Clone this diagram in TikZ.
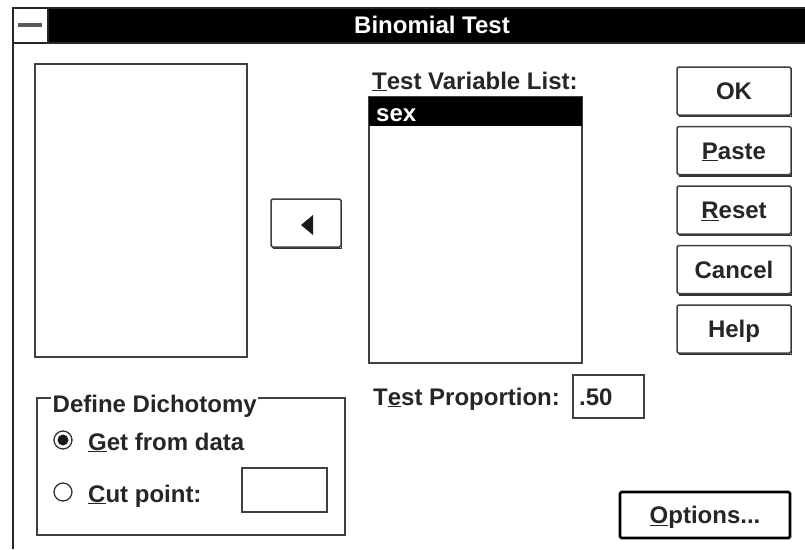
\documentclass[tikz,border=0pt]{standalone}
\usepackage{fontspec}
\setmainfont{Liberation Sans}
\usetikzlibrary{positioning}

\newcommand\dlgfont{\bfseries\fontsize{24}{28}\selectfont}

\def\dlgWidth{805}
\def\dlgHeight{549}
\def\dlgLeft{13}
\def\dlgTop{8}
\def\titleBottom{43}
\def\buttonWidth{114}
\def\buttonHeight{48}
\def\buttonGap{10}
\def\radioRadius{9}

\tikzset{
    dlgline/.style = {draw = black!75, line width = 1.6pt},
    pushbutton/.style = {draw = black!75, line width = 1.5pt, rounded corners = 1.5pt,
        minimum width = \buttonWidth pt, minimum height = \buttonHeight pt,
        inner sep = 0pt, text height = 18pt, text depth = 1pt,
        font = \dlgfont, text = black!85},
    dlglabel/.style = {anchor = base west, inner sep = 0pt, font = \dlgfont, text = black!85},
}

\begin{document}
\begin{tikzpicture}[x = 1pt, y = -1pt]
            \useasboundingbox (0,0) rectangle (\dlgWidth,\dlgHeight);
            %% window frame and title bar
            \fill (48,\dlgTop) rectangle (\dlgWidth,\titleBottom);
            \draw [dlgline, draw = black!85]
            (\dlgLeft,\dlgHeight) -- (\dlgLeft,\dlgTop) -- (\dlgWidth,\dlgTop)
            (\dlgLeft,\titleBottom) -- (\dlgWidth,\titleBottom)
            (48,\dlgTop) -- (48,\titleBottom)
            ;
            \draw [line width = 4pt, black!65] (18,25) -- (42,25);
            \node [font = \dlgfont, text = white, inner sep = 0pt,
                text height = 18pt, text depth = 1pt] (title) at (432,25) {Binomial Test};
            %% source list
            \draw [dlgline] (35,64) rectangle (247,357);
            %% move button
            \node [pushbutton, minimum width = 70pt] (move) at (306,223) {};
            \fill [black!90] (301,225) -- (313,215) -- (313,235) -- cycle;
            %% test variable list
            \node [dlglabel] (varlabel) at (372,89) {\underline{T}est Variable List:};
            \draw [dlgline] (369,97) rectangle (582,363);
            \fill (369,97) rectangle (582,126);
            \node [dlglabel, text = white] (sex) at (376,121) {sex};
            %% buttons
            \node [pushbutton] (ok) at (734,91) {OK};
            \node [pushbutton, below = \buttonGap pt of ok] (paste) {\underline{P}aste};
            \node [pushbutton, below = \buttonGap pt of paste] (reset) {\underline{R}eset};
            \node [pushbutton, below = \buttonGap pt of reset] (cancel) {Cancel};
            \node [pushbutton, below = \buttonGap pt of cancel] (help) {Help};
            \foreach \btn in {move,ok,paste,reset,cancel,help} {
                \draw [black!80, line width = 1.5pt]
                ([xshift = 3pt, yshift = -0.5pt]\btn.south west)
                -- ([xshift = -0.5pt, yshift = -0.5pt]\btn.south east)
                -- ([xshift = -0.5pt, yshift = -3pt]\btn.north east);
            }
            %% test proportion
            \node [dlglabel] (proplabel) at (373,405) {T\underline{e}st Proportion:};
            \draw [dlgline] (573,375) rectangle (644,418);
            \node [dlglabel] (propvalue) at (579,405) {.50};
            %% define dichotomy group
            \draw [dlgline, line width = 1.4pt] (37,398) rectangle (345,535);
            \node [dlglabel, fill = white, inner xsep = 1.5pt, inner ysep = 1pt]
            (grouplabel) at (51,412) {Define Dichotomy};
            \draw [line width = 1.3pt, black!80] (63,440) circle (\radioRadius);
            \fill [black!90] (63,440) circle (5.5);
            \node [dlglabel] (getdata) at (88,450) {\underline{G}et from data};
            \draw [line width = 1.3pt, black!80] (63,492) circle (\radioRadius);
            \node [dlglabel] (cutpoint) at (88,502) {\underline{C}ut point:};
            \draw [dlgline] (242,468) rectangle (327,512);
            %% options
            \node [pushbutton, draw = black, line width = 2.8pt, minimum width = 170pt,
                minimum height = 46pt] (options) at (705,515) {\underline{O}ptions...};
\end{tikzpicture}
\end{document}
